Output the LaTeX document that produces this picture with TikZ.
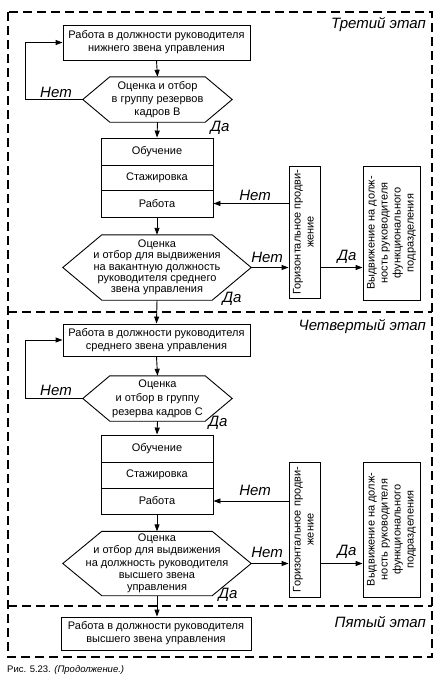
\documentclass[tikz,border=0pt]{standalone}
\usepackage{fontspec}
\setmainfont{Liberation Sans}
\usepackage{graphicx}
\usetikzlibrary{arrows.meta}
\newcommand\hexdraw[2]{\draw[line width=0.9pt] (#1.west) -- ([xshift=#2]#1.north west) -- ([xshift=-#2]#1.north east) -- (#1.east) -- ([xshift=-#2]#1.south east) -- ([xshift=#2]#1.south west) -- cycle;}
\tikzset{
  frame/.style={line width=1.2pt, dash pattern=on 9pt off 5pt},
  box/.style={draw, line width=0.9pt, align=center, inner sep=0pt, font=\fontsize{11}{13}\selectfont},
  hexnode/.style={align=center, inner sep=0pt, font=\fontsize{11}{12}\selectfont},
  cell/.style={draw, line width=0.9pt, inner sep=0pt, minimum width=112pt, font=\fontsize{11}{13}\selectfont},
  lab/.style={inner sep=0pt, font=\fontsize{15}{15}\selectfont\itshape},
  stagelab/.style={inner sep=0pt, anchor=east, font=\fontsize{15}{15}\selectfont\itshape},
  arr/.style={line width=0.9pt, -{Triangle[length=7pt,width=5pt]}}
}
\begin{document}
\begin{tikzpicture}[x=1pt,y=-1pt]
\useasboundingbox (0,0) rectangle (446,678);
% frame
\draw[frame] (8,12) rectangle (432,657);
\draw[frame] (8,312) -- (432,312);
\draw[frame] (8,606) -- (432,606);
% stage titles
\node[stagelab] (t3) at (426,25) {Третий этап};
\node[stagelab] (t4) at (426,327) {Четвертый этап};
\node[stagelab] (t5) at (426,622) {Пятый этап};

% ---------- stage 3
\node[box, minimum width=187pt, minimum height=35pt] (b1) at (156.5,42.5) {Работа в должности руководителя\\нижнего звена управления};
\node[hexnode, minimum width=149pt, minimum height=45pt, font=\fontsize{11}{13.3}\selectfont] (h1) at (157.5,99.5) {Оценка и отбор\\в группу резервов\\кадров B};
\hexdraw{h1}{27}
\node[cell, minimum height=27pt] (o3) at (157,151.5) {Обучение};
\node[cell, minimum height=25pt] (s3) at (157,177.5) {Стажировка};
\node[cell, minimum height=27pt] (r3) at (157,203.5) {Работа};
\node[hexnode, minimum width=188pt, minimum height=65pt, font=\fontsize{11}{11.3}\selectfont] (h2) at (157,267.5) {Оценка\\и отбор для выдвижения\\на вакантную должность\\руководителя среднего\\звена управления};
\hexdraw{h2}{39}
\node[box, minimum width=31pt, minimum height=132pt] (g3) at (304.5,232) {\rotatebox{90}{\begin{tabular}{@{}c@{}}Горизонтальное продви-\\жение\end{tabular}}};
\node[box, minimum width=57pt, minimum height=134pt] (v3) at (391.5,233) {\rotatebox{90}{\begin{tabular}{@{}c@{}}Выдвижение на долж-\\ность руководителя\\функционального\\подразделения\end{tabular}}};

\draw[arr] (b1.south) -- (h1.north);
\draw[arr] (h1.west) -- ++(-57,0) |- (b1.west);
\draw[arr] (h1.south) -- (o3.north);
\draw[arr] (r3.south) -- (h2.north);
\draw[arr] (g3.west |- r3.east) -- (r3.east);
\draw[arr] (h2.east) -- (h2.east -| g3.west);
\draw[arr] (h2.east -| g3.east) -- (h2.east -| v3.west);
\node[lab] (n31) at (56,92) {Нет};
\node[lab] (d31) at (220,128) {Да};
\node[lab] (n32) at (255,195) {Нет};
\node[lab] (n33) at (267,257) {Нет};
\node[lab] (d32) at (347,257) {Да};
\node[lab] (d33) at (232,299) {Да};

% ---------- stage 4
\node[box, minimum width=187pt, minimum height=32pt] (b4) at (156.5,340) {Работа в должности руководителя\\среднего звена управления};
\node[hexnode, minimum width=149pt, minimum height=45pt, font=\fontsize{11}{14}\selectfont] (h3) at (157.5,398.5) {Оценка\\и отбор в группу\\резерва кадров С};
\hexdraw{h3}{27}
\node[cell, minimum height=27pt] (o4) at (157,448.5) {Обучение};
\node[cell, minimum height=26pt] (s4) at (157,475) {Стажировка};
\node[cell, minimum height=26pt] (r4) at (157,501) {Работа};
\node[hexnode, minimum width=188pt, minimum height=64pt, font=\fontsize{11}{12.3}\selectfont] (h4) at (157,563.5) {Оценка\\и отбор для выдвижения\\на должность руководителя\\высшего звена\\управления};
\hexdraw{h4}{39}
\node[box, minimum width=31pt, minimum height=135pt] (g4) at (304.5,529.5) {\rotatebox{90}{\begin{tabular}{@{}c@{}}Горизонтальное продви-\\жение\end{tabular}}};
\node[box, minimum width=57pt, minimum height=135pt] (v4) at (391.5,529.5) {\rotatebox{90}{\begin{tabular}{@{}c@{}}Выдвижение на долж-\\ность руководителя\\функционального\\подразделения\end{tabular}}};

\draw[arr] (h2.south) -- (b4.north);
\draw[arr] (b4.south) -- (h3.north);
\draw[arr] (h3.west) -- ++(-57,0) |- (b4.west);
\draw[arr] (h3.south) -- (o4.north);
\draw[arr] (r4.south) -- (h4.north);
\draw[arr] (g4.west |- r4.east) -- (r4.east);
\draw[arr] (h4.east) -- (h4.east -| g4.west);
\draw[arr] (h4.east -| g4.east) -- (h4.east -| v4.west);
\node[lab] (n41) at (56,390) {Нет};
\node[lab] (d41) at (218,423) {Да};
\node[lab] (n42) at (255,490) {Нет};
\node[lab] (n43) at (267,552) {Нет};
\node[lab] (d42) at (347,552) {Да};
\node[lab] (d43) at (228,595) {Да};

% ---------- stage 5
\node[box, minimum width=190pt, minimum height=33pt] (b5) at (156,633.5) {Работа в должности руководителя\\высшего звена управления};
\draw[arr] (h4.south) -- (b5.north -| h4.south);

% caption
\node[anchor=west, inner sep=0pt, font=\fontsize{9.5}{11}\selectfont] (cap) at (7,670) {Рис. 5.23. \textit{(Продолжение.)}};
\end{tikzpicture}
\end{document}
